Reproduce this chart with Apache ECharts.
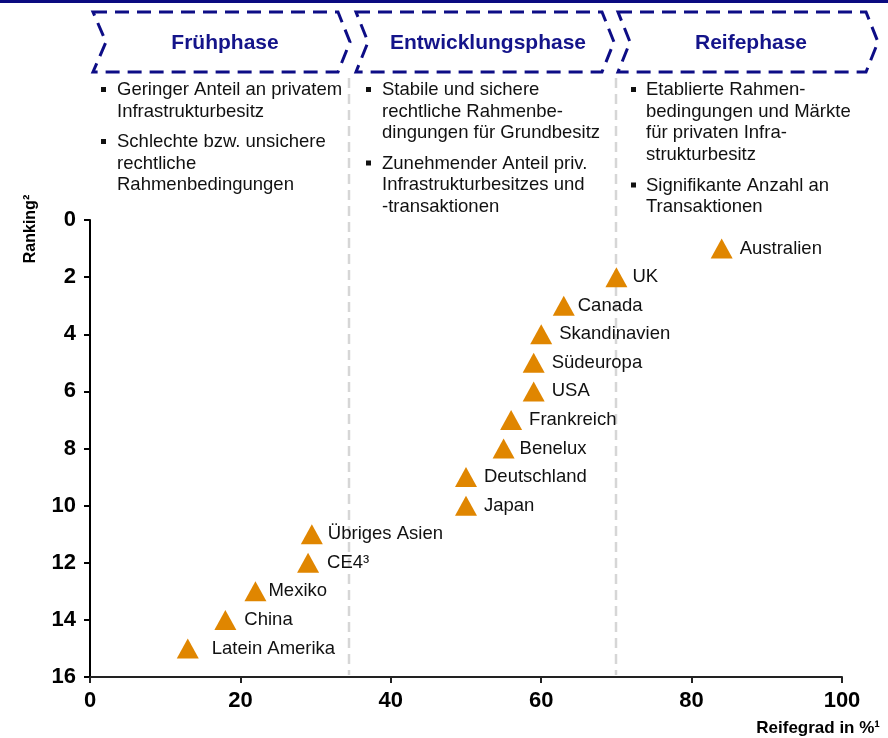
<!DOCTYPE html>
<html>
<head>
<meta charset="utf-8">
<script src="https://cdn.jsdelivr.net/npm/echarts@6/dist/echarts.min.js"></script>
<style>
  html, body { margin: 0; padding: 0; background: #ffffff; }
  #chart { width: 888px; height: 738px; }
</style>
</head>
<body>
<div id="chart"></div>
<script>
// Markets: maturity of private infrastructure ownership vs. ranking
const countries = ['Australien', 'UK', 'Canada', 'Skandinavien', 'Südeuropa', 'USA', 'Frankreich',
  'Benelux', 'Deutschland', 'Japan', 'Übriges Asien', 'CE4³', 'Mexiko', 'China', 'Latein Amerika'];
const maturity = [84, 70, 63, 60, 59, 59, 56, 55, 50, 50, 29.5, 29, 22, 18, 13];
const ranking = [1, 2, 3, 4, 5, 6, 7, 8, 9, 10, 11, 12, 13, 14, 15];
const labelGap = [7, 5, 3, 7, 7, 7, 7, 5, 7, 7, 5, 8, 2, 8, 13];

const xTicks = [0, 20, 40, 60, 80, 100];
const yTicks = [0, 2, 4, 6, 8, 10, 12, 14, 16];

const phaseNames = ['Frühphase', 'Entwicklungsphase', 'Reifephase'];
const phaseBounds = [34.5, 70];
const phaseNotes = [
  [['Geringer Anteil an privatem', 'Infrastrukturbesitz'],
   ['Schlechte bzw. unsichere', 'rechtliche', 'Rahmenbedingungen']],
  [['Stabile und sichere', 'rechtliche Rahmenbe-', 'dingungen für Grundbesitz'],
   ['Zunehmender Anteil priv.', 'Infrastrukturbesitzes und', '-transaktionen']],
  [['Etablierte Rahmen-', 'bedingungen und Märkte', 'für privaten Infra-', 'strukturbesitz'],
   ['Signifikante Anzahl an', 'Transaktionen']]
];

const FONT = '"Liberation Sans", Arial, sans-serif';
const NAVY = '#0d0d86';
const ORANGE = '#E08600';

const chart = echarts.init(document.getElementById('chart'), null, { renderer: 'canvas' });

const points = countries.map((name, i) => ({
  name: name,
  value: [maturity[i], ranking[i]],
  label: { distance: labelGap[i] }
}));

chart.setOption({
  animation: false,
  backgroundColor: '#ffffff',
  grid: { left: 90, right: 46, top: 220, bottom: 61, containLabel: false },
  xAxis: {
    type: 'value',
    min: xTicks[0], max: xTicks[xTicks.length - 1], interval: 20,
    axisLine: { onZero: false, lineStyle: { color: '#222', width: 2 } },
    axisTick: { show: true, length: 6, lineStyle: { color: '#222', width: 2 } },
    axisLabel: { margin: 13, fontFamily: FONT, fontSize: 22, fontWeight: 'bold', color: '#000' },
    splitLine: { show: false }
  },
  yAxis: {
    type: 'value',
    inverse: true,
    min: yTicks[0], max: yTicks[yTicks.length - 1], interval: 2,
    axisLine: { onZero: false, lineStyle: { color: '#000', width: 2 } },
    axisTick: { show: true, length: 6, lineStyle: { color: '#000', width: 2 } },
    axisLabel: { margin: 14, fontFamily: FONT, fontSize: 22, fontWeight: 'bold', color: '#000' },
    splitLine: { show: false }
  },
  series: [{
    type: 'scatter',
    z: 3,
    symbol: 'triangle',
    symbolSize: [22, 20],
    itemStyle: { color: ORANGE, opacity: 1 },
    emphasis: { disabled: true },
    label: {
      show: true,
      position: 'right',
      formatter: '{b}',
      fontFamily: FONT,
      fontSize: 18.5,
      color: '#111',
      opacity: 1
    },
    data: points
  }]
});

// Overlay: header chevrons, bullet notes, phase separators, axis names
const elements = [];

elements.push({
  type: 'rect', shape: { x: 0, y: 0, width: 888, height: 3 },
  style: { fill: '#0a0a80' }, z: 10
});

const chevrons = [
  { l: 93, n: 106, r: 338, t: 350 },
  { l: 356, n: 368, r: 602, t: 614 },
  { l: 618, n: 630, r: 866, t: 878 }
];
const boxTop = 12, boxBot = 72, boxMid = 42;
chevrons.forEach((c, i) => {
  elements.push({
    type: 'polygon',
    shape: { points: [[c.l, boxTop], [c.r, boxTop], [c.t, boxMid], [c.r, boxBot], [c.l, boxBot], [c.n, boxMid]] },
    style: { fill: null, stroke: NAVY, lineWidth: 3, lineDash: [14, 8] },
    z: 10
  });
  elements.push({
    type: 'text',
    x: (c.n + c.r) / 2 + 3, y: boxMid + 1,
    style: {
      text: phaseNames[i], fill: '#14148a', font: 'bold 21px ' + FONT,
      textAlign: 'center', textVerticalAlign: 'middle'
    },
    z: 10
  });
});

const noteCols = [
  { bullet: 101, text: 117, starts: [90, 142] },
  { bullet: 366, text: 382, starts: [90, 163.5] },
  { bullet: 631, text: 646, starts: [90, 185.5] }
];
const LINE_H = 21.5;
phaseNotes.forEach((paras, ci) => {
  const col = noteCols[ci];
  paras.forEach((lines, pi) => {
    const y0 = col.starts[pi];
    elements.push({
      type: 'rect',
      shape: { x: col.bullet, y: y0 - 3, width: 5, height: 5 },
      style: { fill: '#111' }, z: 10
    });
    lines.forEach((ln, li) => {
      elements.push({
        type: 'text',
        x: col.text, y: y0 + li * LINE_H,
        style: { text: ln, fill: '#111', font: '18.5px ' + FONT, textAlign: 'left', textVerticalAlign: 'middle' },
        z: 10
      });
    });
  });
});

const yBottom = chart.convertToPixel({ yAxisIndex: 0 }, yTicks[yTicks.length - 1]);
phaseBounds.forEach(v => {
  const px = Math.round(chart.convertToPixel({ xAxisIndex: 0 }, v));
  elements.push({
    type: 'line',
    shape: { x1: px, y1: 78, x2: px, y2: yBottom - 2 },
    style: { stroke: '#d6d6d6', lineWidth: 2.5, lineDash: [10, 6] },
    z: 1
  });
});

elements.push({
  type: 'text',
  x: 31, y: 229, rotation: Math.PI / 2,
  style: { text: 'Ranking²', fill: '#000', font: 'bold 16px ' + FONT, textAlign: 'center', textVerticalAlign: 'middle' },
  z: 10
});
elements.push({
  type: 'text',
  x: 880, y: 728,
  style: { text: 'Reifegrad in %¹', fill: '#000', font: 'bold 17px ' + FONT, textAlign: 'right', textVerticalAlign: 'middle' },
  z: 10
});

chart.setOption({ graphic: { elements: elements } });
</script>
</body>
</html>
